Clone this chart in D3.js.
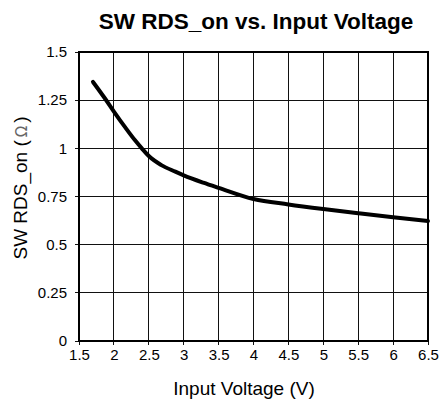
<!DOCTYPE html>
<html><head><meta charset="utf-8">
<script src="https://cdn.jsdelivr.net/npm/d3@7"></script>
<style>body{margin:0;background:#fff}svg{display:block}</style>
</head><body>
<script>
const voltage = [1.7, 1.87, 2.0, 2.16, 2.3, 2.4, 2.5, 2.68, 2.88, 3.0, 3.28, 3.5, 4.0, 4.5, 5.0, 5.5, 6.0, 6.5];
const rdsOn   = [1.345, 1.26, 1.191, 1.11, 1.043, 1.0, 0.96, 0.913, 0.879, 0.86, 0.822, 0.795, 0.737, 0.709, 0.685, 0.663, 0.642, 0.623];
const xTicks = [1.5, 2, 2.5, 3, 3.5, 4, 4.5, 5, 5.5, 6, 6.5];
const yTicks = [0, 0.25, 0.5, 0.75, 1, 1.25, 1.5];

const W = 441, H = 405;
const m = {left: 79, right: 13, top: 52, bottom: 64};
const svg = d3.select("body").append("svg").attr("width", W).attr("height", H);
const x = d3.scaleLinear().domain([1.5, 6.5]).range([m.left, W - m.right]);
const y = d3.scaleLinear().domain([0, 1.5]).range([H - m.bottom, m.top]);
const font = "Arial, 'Liberation Sans', sans-serif";

// grid
svg.append("g").selectAll("line").data(xTicks).join("line")
  .attr("x1", d => x(d)).attr("x2", d => x(d))
  .attr("y1", y(0) + 4).attr("y2", y(1.5))
  .attr("stroke", "#111").attr("stroke-width", 1).attr("shape-rendering", "crispEdges");
svg.append("g").selectAll("line").data(yTicks).join("line")
  .attr("x1", x(1.5) - 4).attr("x2", x(6.5))
  .attr("y1", d => y(d)).attr("y2", d => y(d))
  .attr("stroke", "#111").attr("stroke-width", 1).attr("shape-rendering", "crispEdges");

// frame
svg.append("rect").attr("x", x(1.5)).attr("y", y(1.5))
  .attr("width", x(6.5) - x(1.5)).attr("height", y(0) - y(1.5))
  .attr("fill", "none").attr("stroke", "#000").attr("stroke-width", 2);

// axes labels via d3 axes (lines hidden)
const xa = svg.append("g").attr("transform", `translate(0,${y(0)})`)
  .call(d3.axisBottom(x).tickValues(xTicks).tickSize(0).tickPadding(8).tickFormat(d3.format("")));
const ya = svg.append("g").attr("transform", `translate(${x(1.5)},0)`)
  .call(d3.axisLeft(y).tickValues(yTicks).tickSize(0).tickPadding(12).tickFormat(d => String(d)));
[xa, ya].forEach(g => {
  g.select(".domain").remove();
  g.selectAll("text").attr("font-family", font).attr("font-size", 15).attr("fill", "#000");
});

// curve
svg.append("path").datum(voltage.map((v, i) => [v, rdsOn[i]]))
  .attr("d", d3.line().x(d => x(d[0])).y(d => y(d[1])).curve(d3.curveMonotoneX))
  .attr("fill", "none").attr("stroke", "#000").attr("stroke-width", 4).attr("stroke-linecap", "round");

// title
svg.append("text").attr("x", 256).attr("y", 29).attr("text-anchor", "middle")
  .attr("font-family", font).attr("font-weight", "bold").attr("font-size", 22.5)
  .text("SW RDS_on vs. Input Voltage");

// x axis title
svg.append("text").attr("x", 244).attr("y", 395).attr("text-anchor", "middle")
  .attr("font-family", font).attr("font-size", 19).text("Input Voltage (V)");

// y axis title
const yt = svg.append("text").attr("transform", `translate(27,188) rotate(-90)`)
  .attr("text-anchor", "middle").attr("font-family", font).attr("font-size", 19);
yt.append("tspan").text("SW RDS_on (");
yt.append("tspan").attr("font-family", "'DejaVu Sans', sans-serif").attr("font-size", 15).attr("fill", "#666").attr("dx", 3).text("\u03A9");
yt.append("tspan").attr("dx", 3).text(")");
</script>
</body></html>
